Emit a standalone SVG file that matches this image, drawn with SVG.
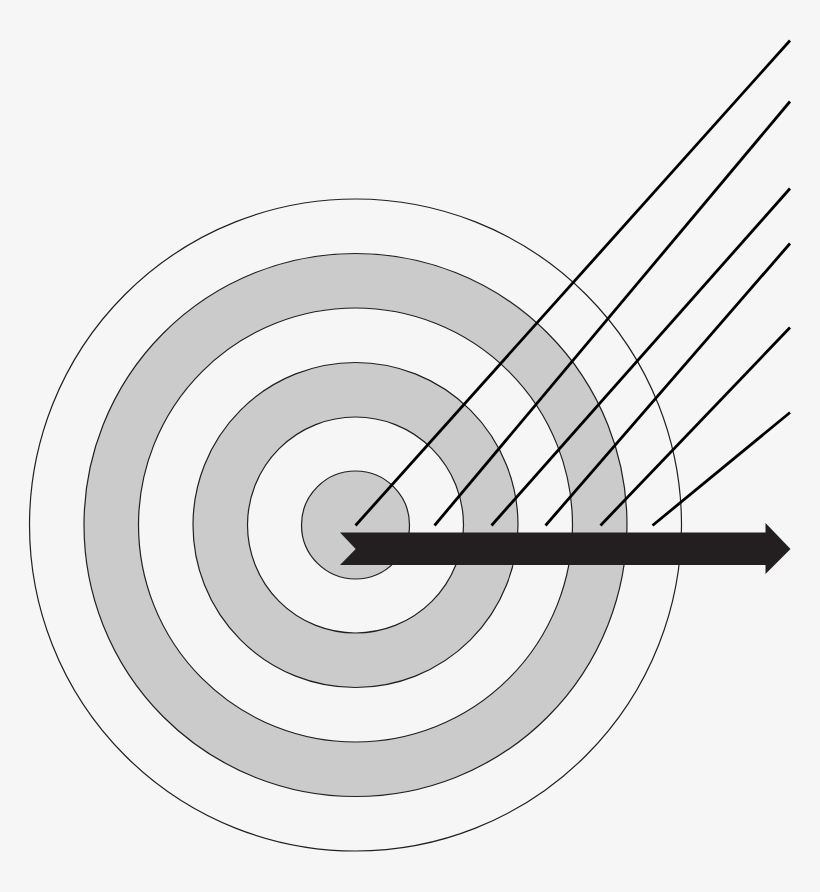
<svg xmlns="http://www.w3.org/2000/svg" width="820" height="892" viewBox="0 0 820 892">
<style>
.ring{stroke:#231f20;stroke-width:1.2}
.g{fill:#cbcbcb}
.w{fill:#f6f6f6}
.ray{stroke:#000;stroke-width:2.8;stroke-linecap:butt;fill:none}
</style>
<rect width="820" height="892" fill="#f6f6f6"/>
<g id="target">
<circle class="ring w" cx="355.5" cy="525" r="326"/>
<circle class="ring g" cx="355.5" cy="525" r="271.5"/>
<circle class="ring w" cx="355.5" cy="525" r="217"/>
<circle class="ring g" cx="355.5" cy="525" r="162.5"/>
<circle class="ring w" cx="355.5" cy="525" r="108"/>
<circle class="ring g" cx="355.5" cy="525" r="54"/>
</g>
<g id="rays">
<line class="ray" x1="355.5" y1="525.5" x2="790" y2="40.5"/>
<line class="ray" x1="434.5" y1="525.5" x2="790" y2="101.5"/>
<line class="ray" x1="491.5" y1="525.5" x2="790" y2="188.5"/>
<line class="ray" x1="545.5" y1="525.5" x2="790" y2="243.5"/>
<line class="ray" x1="600.5" y1="525.5" x2="790" y2="327.5"/>
<line class="ray" x1="652.5" y1="525.5" x2="790" y2="412.5"/>
</g>
<g id="arrow">
<polygon fill="#231f20" points="340,532.5 765.5,532.5 765.5,523 790.5,549 765.5,574 765.5,565 340,565 355.7,549"/>
</g>
</svg>
